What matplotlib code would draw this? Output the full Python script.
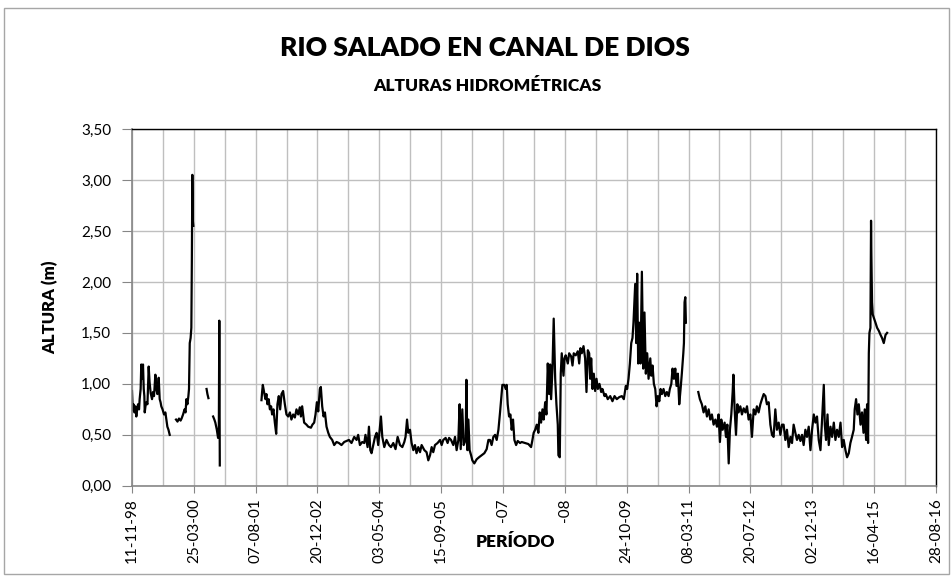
import numpy as np
import pandas as pd
import matplotlib
matplotlib.use("Agg")
import matplotlib.pyplot as plt
from matplotlib.patches import Rectangle
from matplotlib.ticker import FuncFormatter

# Registro de alturas, días desde el 11-11-1998 (tramos separados por falta de datos)
inicio = pd.Timestamp("1998-11-11")

tramo1_dias = [0, 6, 12, 20, 27, 35, 43, 49, 57, 62, 70, 75, 83, 89, 95, 100, 103, 109, 117, 125,
               135, 142, 151, 162, 170, 178, 189, 197, 205, 216, 224, 231, 237, 247, 259, 270, 278,
               286, 295, 305]
tramo1_alt = [0.93, 0.74, 0.80, 0.72, 0.78, 0.68, 0.76, 0.80, 0.75, 0.85, 0.95, 1.19, 1.05, 1.19,
              0.95, 0.88, 0.72, 0.78, 0.82, 0.80, 1.17, 1.02, 0.91, 0.85, 0.92, 0.88, 1.09, 0.95,
              0.90, 1.06, 0.85, 0.82, 0.78, 0.75, 0.70, 0.72, 0.65, 0.58, 0.55, 0.50]

tramo2_dias = [356, 368, 380, 393, 401, 413, 425, 433, 440, 448, 456, 461, 467, 474, 480, 484, 488,
               492, 496]
tramo2_alt = [0.65, 0.63, 0.66, 0.64, 0.66, 0.70, 0.75, 0.72, 0.85, 0.80, 0.88, 0.95, 1.40, 1.45,
              1.55, 2.20, 3.05, 2.60, 2.55]

tramo3_dias = [603, 610, 618]
tramo3_alt = [0.95, 0.90, 0.86]

tramo4_dias = [656, 666, 674, 686, 696, 702, 706, 710]
tramo4_alt = [0.68, 0.65, 0.62, 0.55, 0.47, 0.50, 1.62, 0.20]

tramo5_dias = [1047, 1052, 1058, 1068, 1079, 1087, 1095, 1105, 1115, 1125, 1133, 1144, 1155, 1166,
               1176, 1187, 1198, 1209, 1222, 1236, 1249, 1263, 1277, 1289, 1303, 1317, 1330, 1344,
               1357, 1366, 1376, 1392, 1411, 1425, 1447, 1459, 1473, 1484, 1495, 1506, 1519, 1527,
               1538, 1549, 1560, 1573, 1587, 1600, 1619, 1635, 1654, 1673, 1694, 1716, 1735, 1754,
               1775, 1797, 1816, 1829, 1843, 1862, 1878, 1888, 1905, 1916, 1927, 1937, 1951, 1965,
               1978, 1991, 2013, 2024, 2040, 2058, 2078, 2094, 2113, 2131, 2148, 2167, 2186, 2202,
               2212, 2224, 2234, 2248, 2261, 2275, 2288, 2301, 2315, 2329, 2342, 2364, 2382, 2396,
               2410, 2423, 2436, 2450, 2471, 2491, 2504, 2517, 2536, 2552, 2564, 2580, 2598, 2612,
               2625, 2639, 2649, 2658, 2671, 2682, 2698, 2704, 2712, 2720, 2730, 2742, 2752, 2768,
               2787, 2806, 2827, 2849, 2868, 2882, 2895, 2908, 2922, 2936, 2949, 2963, 2976, 2985,
               2995, 3011, 3022, 3030, 3038, 3049, 3060, 3070, 3081, 3092, 3106, 3119, 3138, 3151,
               3179, 3205, 3227, 3238, 3248, 3260, 3273, 3286, 3297, 3308, 3319, 3329, 3341, 3351,
               3362, 3373, 3381, 3389, 3400, 3410, 3422, 3432, 3443, 3448, 3459, 3467, 3475, 3489,
               3497, 3507, 3524, 3535, 3551, 3562, 3572, 3588, 3605, 3616, 3626, 3637, 3651, 3664,
               3675, 3686, 3697, 3705, 3713, 3724, 3734, 3745, 3756, 3767, 3780, 3794, 3804, 3821,
               3831, 3847, 3867, 3885, 3902, 3920, 3940, 3961, 3977, 3993, 4004, 4015, 4026, 4037,
               4047, 4055, 4069, 4077, 4085, 4093, 4102, 4112, 4123, 4134, 4144, 4155, 4166, 4177,
               4191, 4199, 4209, 4220, 4231, 4242, 4252, 4264, 4274, 4285, 4298, 4312, 4325, 4339,
               4349, 4361, 4371, 4382, 4393, 4403, 4414, 4425, 4436, 4446, 4458, 4463, 4468, 4474,
               4479]
tramo5_alt = [0.84, 0.92, 0.99, 0.92, 0.85, 0.90, 0.80, 0.85, 0.75, 0.78, 0.70, 0.75, 0.62, 0.51,
              0.80, 0.88, 0.75, 0.90, 0.93, 0.80, 0.70, 0.68, 0.72, 0.65, 0.70, 0.67, 0.75, 0.70,
              0.77, 0.68, 0.78, 0.62, 0.60, 0.58, 0.57, 0.60, 0.62, 0.70, 0.82, 0.73, 0.95, 0.97,
              0.78, 0.68, 0.72, 0.58, 0.52, 0.48, 0.45, 0.40, 0.43, 0.42, 0.40, 0.43, 0.44, 0.45,
              0.42, 0.48, 0.45, 0.50, 0.40, 0.43, 0.42, 0.50, 0.38, 0.58, 0.35, 0.32, 0.40, 0.48,
              0.52, 0.40, 0.68, 0.48, 0.38, 0.45, 0.40, 0.38, 0.42, 0.36, 0.48, 0.40, 0.38, 0.43,
              0.48, 0.65, 0.52, 0.55, 0.42, 0.35, 0.40, 0.32, 0.38, 0.33, 0.40, 0.35, 0.33, 0.25,
              0.30, 0.38, 0.33, 0.40, 0.42, 0.45, 0.40, 0.45, 0.47, 0.42, 0.47, 0.45, 0.40, 0.48,
              0.35, 0.45, 0.80, 0.36, 0.75, 0.40, 0.45, 1.04, 0.35, 0.65, 0.35, 0.30, 0.25, 0.22,
              0.26, 0.28, 0.30, 0.32, 0.36, 0.45, 0.45, 0.40, 0.48, 0.50, 0.45, 0.55, 0.72, 0.85,
              0.99, 0.99, 0.95, 0.99, 0.80, 0.68, 0.70, 0.55, 0.65, 0.45, 0.40, 0.44, 0.42, 0.43,
              0.42, 0.41, 0.38, 0.45, 0.52, 0.55, 0.60, 0.52, 0.72, 0.62, 0.75, 0.65, 0.82, 0.70,
              1.20, 0.90, 1.19, 0.85, 1.15, 1.64, 1.05, 0.80, 0.60, 0.30, 0.28, 1.10, 1.30, 1.08,
              1.25, 1.28, 1.20, 1.30, 1.27, 1.18, 1.30, 1.28, 1.32, 1.20, 1.35, 1.30, 1.37, 1.25,
              0.92, 1.33, 1.30, 1.05, 1.25, 0.95, 1.10, 0.93, 1.05, 0.95, 1.00, 0.92, 0.95, 0.88,
              0.90, 0.85, 0.88, 0.83, 0.88, 0.85, 0.87, 0.88, 0.85, 0.98, 0.95, 1.05, 1.20, 1.40,
              1.45, 1.60, 1.98, 1.40, 2.08, 1.20, 1.60, 1.20, 2.10, 1.15, 1.70, 1.10, 1.30, 1.05,
              1.25, 1.08, 1.18, 1.00, 0.95, 0.78, 0.88, 0.83, 0.95, 0.90, 0.95, 0.88, 0.92, 0.88,
              0.95, 1.00, 1.15, 1.05, 1.15, 0.98, 1.10, 0.80, 0.95, 1.10, 1.30, 1.40, 1.80, 1.85,
              1.60]

tramo6_dias = [4579, 4592, 4608, 4622, 4636, 4649, 4663, 4676, 4689, 4703, 4717, 4730, 4743, 4754,
               4765, 4776, 4792, 4803, 4814, 4825, 4835, 4846, 4857, 4863, 4873, 4884, 4895, 4905,
               4919, 4932, 4946, 4960, 4973, 4986, 5000, 5013, 5027, 5041, 5053, 5067, 5081, 5094,
               5108, 5122, 5134, 5148, 5162, 5175, 5188, 5202, 5215, 5229, 5243, 5256, 5269, 5283,
               5296, 5310, 5324, 5337, 5350, 5364, 5377, 5391, 5405, 5418, 5431, 5445, 5458, 5472,
               5486, 5499, 5513, 5526, 5539, 5553, 5567, 5580, 5594, 5602, 5612, 5624, 5634, 5648,
               5661, 5675, 5688, 5701, 5715, 5729, 5742, 5755, 5769, 5782, 5796, 5809, 5822, 5836,
               5844, 5855, 5866, 5877, 5891, 5903, 5915, 5925, 5936, 5944, 5952, 5958, 5963, 5971,
               5976, 5979, 5984, 5990, 5998, 6012, 6025, 6039, 6053, 6065, 6079, 6093, 6106]
tramo6_alt = [0.92, 0.85, 0.80, 0.72, 0.78, 0.68, 0.75, 0.65, 0.70, 0.60, 0.65, 0.58, 0.70, 0.43,
              0.65, 0.55, 0.62, 0.48, 0.60, 0.22, 0.55, 0.70, 0.92, 1.09, 0.75, 0.50, 0.80, 0.72,
              0.78, 0.70, 0.76, 0.72, 0.78, 0.65, 0.70, 0.48, 0.75, 0.70, 0.78, 0.72, 0.80, 0.85,
              0.90, 0.88, 0.80, 0.82, 0.60, 0.50, 0.48, 0.75, 0.55, 0.62, 0.50, 0.60, 0.60, 0.45,
              0.55, 0.38, 0.48, 0.42, 0.60, 0.52, 0.45, 0.50, 0.44, 0.50, 0.40, 0.55, 0.48, 0.58,
              0.35, 0.55, 0.70, 0.62, 0.68, 0.45, 0.35, 0.65, 0.99, 0.60, 0.45, 0.70, 0.40, 0.58,
              0.48, 0.62, 0.45, 0.55, 0.48, 0.62, 0.38, 0.45, 0.35, 0.28, 0.32, 0.42, 0.48, 0.55,
              0.75, 0.85, 0.70, 0.80, 0.60, 0.72, 0.52, 0.75, 0.45, 0.80, 0.42, 1.30, 1.50, 1.55,
              2.60, 2.25, 1.80, 1.68, 1.65, 1.60, 1.55, 1.52, 1.48, 1.45, 1.40, 1.48, 1.50]

tramos = [
    (tramo1_dias, tramo1_alt),
    (tramo2_dias, tramo2_alt),
    (tramo3_dias, tramo3_alt),
    (tramo4_dias, tramo4_alt),
    (tramo5_dias, tramo5_alt),
    (tramo6_dias, tramo6_alt),
]

etiquetas_x = ["11-11-98", "25-03-00", "07-08-01", "20-12-02", "03-05-04", "15-09-05", "-07",
               "-08", "24-10-09", "08-03-11", "20-07-12", "02-12-13", "16-04-15", "28-08-16"]

plt.rcParams["font.family"] = ["Lato", "DejaVu Sans"]

fig = plt.figure(figsize=(9.53, 5.77), dpi=100)
ax = fig.add_axes([0.1385, 0.158, 0.8435, 0.6185])

# borde del área del gráfico
fig.patches.append(Rectangle((4 / 953, 3 / 577), 945 / 953, 566 / 577, transform=fig.transFigure,
                             fill=False, edgecolor="#a6a6a6", linewidth=1.0))

for dias, alt in tramos:
    fechas = inicio + pd.to_timedelta(dias, unit="D")
    ax.plot(fechas, alt, color="black", linewidth=1.6)

ticks = [inicio + pd.Timedelta(days=500 * i) for i in range(len(etiquetas_x))]
menores = [inicio + pd.Timedelta(days=250 + 500 * i) for i in range(len(etiquetas_x) - 1)]
ax.set_xlim(ticks[0], ticks[-1])
ax.set_xticks(ticks)
ax.set_xticks(menores, minor=True)
ax.set_xticklabels(etiquetas_x, rotation=90, fontsize=11)

ax.set_ylim(0, 3.5)
ax.set_yticks(np.arange(0, 3.51, 0.5))
ax.yaxis.set_major_formatter(FuncFormatter(lambda v, p: f"{v:.2f}".replace(".", ",")))
ax.tick_params(axis="y", labelsize=11, length=7, color="#868686", pad=8)
ax.tick_params(axis="x", which="major", length=5, color="#868686", pad=4)
ax.tick_params(axis="x", which="minor", length=0)

ax.grid(True, which="both", color="#bfbfbf", linewidth=1.0)
ax.set_axisbelow(True)
for lado in ["left", "bottom"]:
    ax.spines[lado].set_color("#868686")
    ax.spines[lado].set_linewidth(1.2)
for lado in ["top", "right"]:
    ax.spines[lado].set_color("black")
    ax.spines[lado].set_linewidth(1.0)

ax.set_ylabel("ALTURA (m)", fontsize=12, fontweight="heavy", labelpad=16)
ax.set_xlabel("PERÍODO", fontsize=12.5, fontweight="heavy")
ax.xaxis.set_label_coords(0.477, -0.135)

fig.text(0.509, 0.917, "RIO SALADO EN CANAL DE DIOS", ha="center", va="center",
         fontsize=19, fontweight="heavy")
fig.text(0.511, 0.851, "ALTURAS HIDROMÉTRICAS", ha="center", va="center",
         fontsize=12.5, fontweight="heavy")

fig.savefig("out.png", dpi=100)
